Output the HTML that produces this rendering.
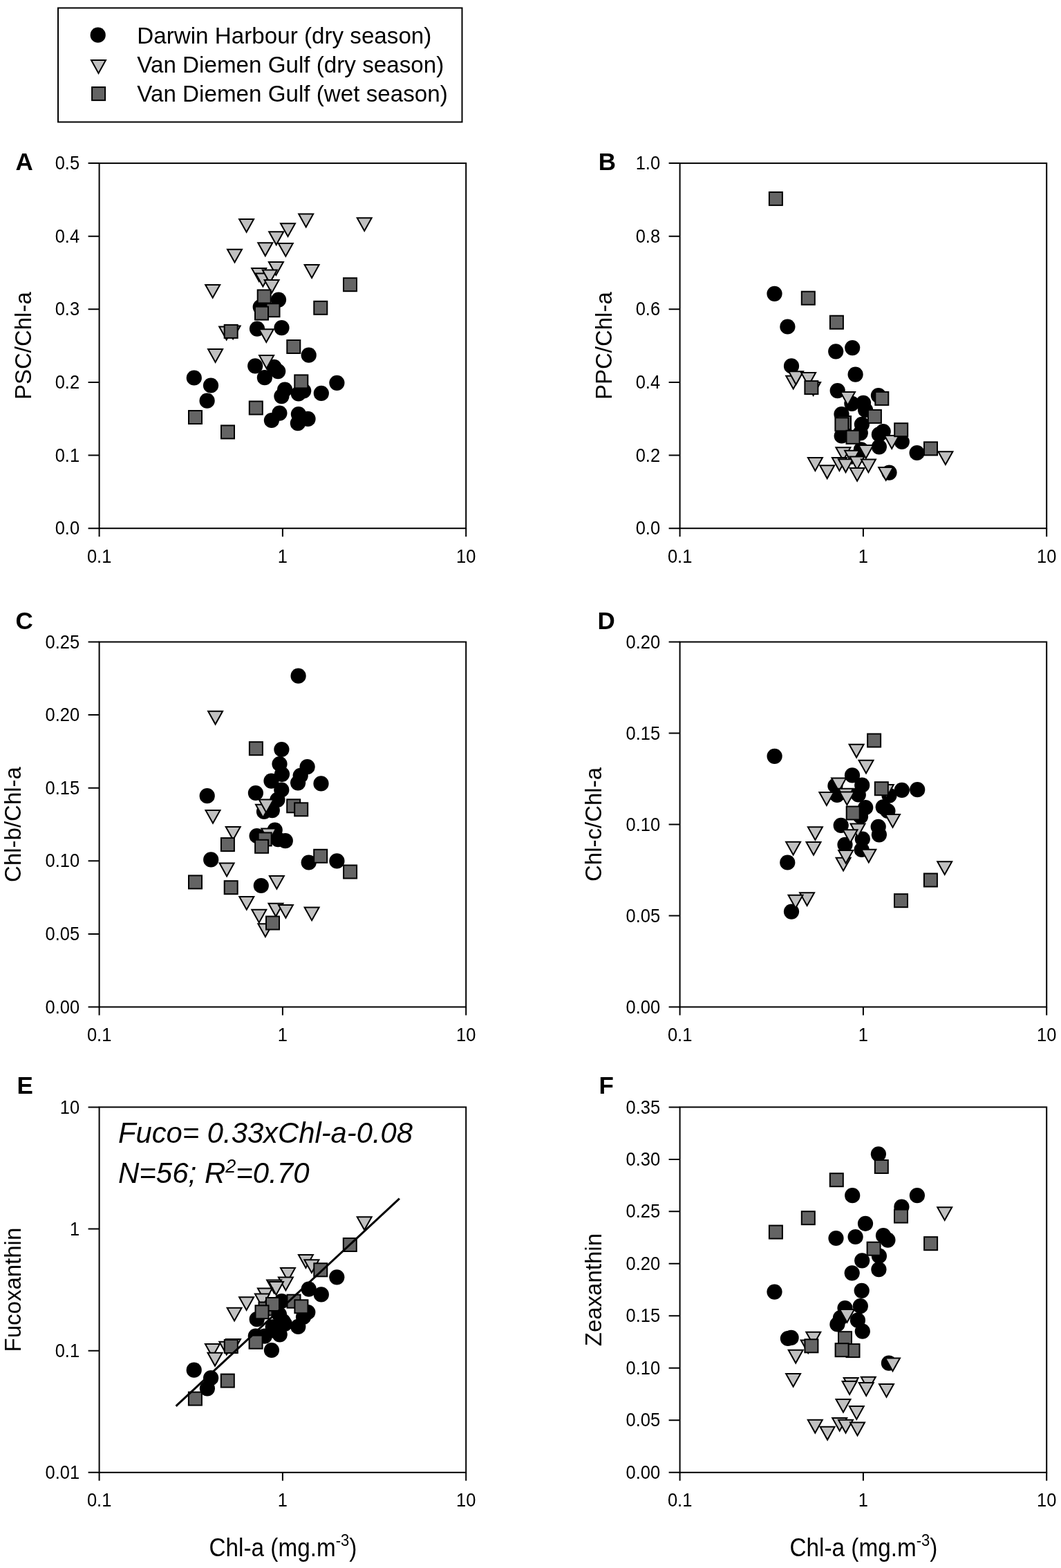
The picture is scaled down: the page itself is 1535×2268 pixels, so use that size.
<!DOCTYPE html><html><head><meta charset="utf-8"><title>Figure</title><style>html,body{margin:0;padding:0;background:#fff}svg{display:block}</style></head><body><svg width="1535" height="2268" viewBox="0 0 1535 2268" font-family='"Liberation Sans", Arial, sans-serif'>
<rect width="1535" height="2268" fill="#fff"/>
<rect x="84" y="11.5" width="584.5" height="165" fill="none" stroke="#000" stroke-width="2"/>
<g fill="#000"><circle cx="141.7" cy="50.7" r="11.1"/></g><g fill="#c0c0c0" stroke="#000" stroke-width="2" stroke-linejoin="miter"><path d="M132 87.1H153L142.5 105.9Z"/></g><g fill="#646464" stroke="#000" stroke-width="2"><rect x="133.1" y="126.1" width="19.0" height="19.0"/></g>
<g font-size="33.2">
<text x="198.3" y="63.3">Darwin Harbour (dry season)</text>
<text x="198.3" y="104.9">Van Diemen Gulf (dry season)</text>
<text x="198.3" y="146.8">Van Diemen Gulf (wet season)</text>
</g>
<g font-size="25.5">
<rect x="143.6" y="236.1" width="530.6" height="528.1" fill="none" stroke="#000" stroke-width="2"/><text transform="translate(115.1 773.3) scale(1 1.07)" text-anchor="end">0.0</text><text transform="translate(115.1 667.68) scale(1 1.07)" text-anchor="end">0.1</text><text transform="translate(115.1 562.06) scale(1 1.07)" text-anchor="end">0.2</text><text transform="translate(115.1 456.44) scale(1 1.07)" text-anchor="end">0.3</text><text transform="translate(115.1 350.82) scale(1 1.07)" text-anchor="end">0.4</text><text transform="translate(115.1 245.2) scale(1 1.07)" text-anchor="end">0.5</text><text transform="translate(143.6 813.8) scale(1 1.07)" text-anchor="middle">0.1</text><text transform="translate(408.9 813.8) scale(1 1.07)" text-anchor="middle">1</text><text transform="translate(674.2 813.8) scale(1 1.07)" text-anchor="middle">10</text><path d="M127.6 764.2H143.6M127.6 658.58H143.6M127.6 552.96H143.6M127.6 447.34H143.6M127.6 341.72H143.6M127.6 236.1H143.6M143.6 764.2V776.2M408.9 764.2V776.2M674.2 764.2V776.2" stroke="#000" stroke-width="2" fill="none"/>
<rect x="983.6" y="236.1" width="530.6" height="528.1" fill="none" stroke="#000" stroke-width="2"/><text transform="translate(955.1 773.3) scale(1 1.07)" text-anchor="end">0.0</text><text transform="translate(955.1 667.68) scale(1 1.07)" text-anchor="end">0.2</text><text transform="translate(955.1 562.06) scale(1 1.07)" text-anchor="end">0.4</text><text transform="translate(955.1 456.44) scale(1 1.07)" text-anchor="end">0.6</text><text transform="translate(955.1 350.82) scale(1 1.07)" text-anchor="end">0.8</text><text transform="translate(955.1 245.2) scale(1 1.07)" text-anchor="end">1.0</text><text transform="translate(983.6 813.8) scale(1 1.07)" text-anchor="middle">0.1</text><text transform="translate(1248.9 813.8) scale(1 1.07)" text-anchor="middle">1</text><text transform="translate(1514.2 813.8) scale(1 1.07)" text-anchor="middle">10</text><path d="M967.6 764.2H983.6M967.6 658.58H983.6M967.6 552.96H983.6M967.6 447.34H983.6M967.6 341.72H983.6M967.6 236.1H983.6M983.6 764.2V776.2M1248.9 764.2V776.2M1514.2 764.2V776.2" stroke="#000" stroke-width="2" fill="none"/>
<rect x="143.6" y="928.5" width="530.6" height="528" fill="none" stroke="#000" stroke-width="2"/><text transform="translate(115.1 1465.6) scale(1 1.07)" text-anchor="end">0.00</text><text transform="translate(115.1 1360) scale(1 1.07)" text-anchor="end">0.05</text><text transform="translate(115.1 1254.4) scale(1 1.07)" text-anchor="end">0.10</text><text transform="translate(115.1 1148.8) scale(1 1.07)" text-anchor="end">0.15</text><text transform="translate(115.1 1043.2) scale(1 1.07)" text-anchor="end">0.20</text><text transform="translate(115.1 937.6) scale(1 1.07)" text-anchor="end">0.25</text><text transform="translate(143.6 1506.1) scale(1 1.07)" text-anchor="middle">0.1</text><text transform="translate(408.9 1506.1) scale(1 1.07)" text-anchor="middle">1</text><text transform="translate(674.2 1506.1) scale(1 1.07)" text-anchor="middle">10</text><path d="M127.6 1456.5H143.6M127.6 1350.9H143.6M127.6 1245.3H143.6M127.6 1139.7H143.6M127.6 1034.1H143.6M127.6 928.5H143.6M143.6 1456.5V1468.5M408.9 1456.5V1468.5M674.2 1456.5V1468.5" stroke="#000" stroke-width="2" fill="none"/>
<rect x="983.6" y="928.5" width="530.6" height="528" fill="none" stroke="#000" stroke-width="2"/><text transform="translate(955.1 1465.6) scale(1 1.07)" text-anchor="end">0.00</text><text transform="translate(955.1 1333.6) scale(1 1.07)" text-anchor="end">0.05</text><text transform="translate(955.1 1201.6) scale(1 1.07)" text-anchor="end">0.10</text><text transform="translate(955.1 1069.6) scale(1 1.07)" text-anchor="end">0.15</text><text transform="translate(955.1 937.6) scale(1 1.07)" text-anchor="end">0.20</text><text transform="translate(983.6 1506.1) scale(1 1.07)" text-anchor="middle">0.1</text><text transform="translate(1248.9 1506.1) scale(1 1.07)" text-anchor="middle">1</text><text transform="translate(1514.2 1506.1) scale(1 1.07)" text-anchor="middle">10</text><path d="M967.6 1456.5H983.6M967.6 1324.5H983.6M967.6 1192.5H983.6M967.6 1060.5H983.6M967.6 928.5H983.6M983.6 1456.5V1468.5M1248.9 1456.5V1468.5M1514.2 1456.5V1468.5" stroke="#000" stroke-width="2" fill="none"/>
<rect x="143.6" y="1601.4" width="530.6" height="528.4" fill="none" stroke="#000" stroke-width="2"/><text transform="translate(115.1 2138.9) scale(1 1.07)" text-anchor="end">0.01</text><text transform="translate(115.1 1962.77) scale(1 1.07)" text-anchor="end">0.1</text><text transform="translate(115.1 1786.63) scale(1 1.07)" text-anchor="end">1</text><text transform="translate(115.1 1610.5) scale(1 1.07)" text-anchor="end">10</text><text transform="translate(143.6 2179.4) scale(1 1.07)" text-anchor="middle">0.1</text><text transform="translate(408.9 2179.4) scale(1 1.07)" text-anchor="middle">1</text><text transform="translate(674.2 2179.4) scale(1 1.07)" text-anchor="middle">10</text><path d="M127.6 2129.8H143.6M127.6 1953.67H143.6M127.6 1777.53H143.6M127.6 1601.4H143.6M143.6 2129.8V2141.8M408.9 2129.8V2141.8M674.2 2129.8V2141.8" stroke="#000" stroke-width="2" fill="none"/>
<rect x="983.6" y="1601.4" width="530.6" height="528.4" fill="none" stroke="#000" stroke-width="2"/><text transform="translate(955.1 2138.9) scale(1 1.07)" text-anchor="end">0.00</text><text transform="translate(955.1 2063.41) scale(1 1.07)" text-anchor="end">0.05</text><text transform="translate(955.1 1987.93) scale(1 1.07)" text-anchor="end">0.10</text><text transform="translate(955.1 1912.44) scale(1 1.07)" text-anchor="end">0.15</text><text transform="translate(955.1 1836.96) scale(1 1.07)" text-anchor="end">0.20</text><text transform="translate(955.1 1761.47) scale(1 1.07)" text-anchor="end">0.25</text><text transform="translate(955.1 1685.99) scale(1 1.07)" text-anchor="end">0.30</text><text transform="translate(955.1 1610.5) scale(1 1.07)" text-anchor="end">0.35</text><text transform="translate(983.6 2179.4) scale(1 1.07)" text-anchor="middle">0.1</text><text transform="translate(1248.9 2179.4) scale(1 1.07)" text-anchor="middle">1</text><text transform="translate(1514.2 2179.4) scale(1 1.07)" text-anchor="middle">10</text><path d="M967.6 2129.8H983.6M967.6 2054.31H983.6M967.6 1978.83H983.6M967.6 1903.34H983.6M967.6 1827.86H983.6M967.6 1752.37H983.6M967.6 1676.89H983.6M967.6 1601.4H983.6M983.6 2129.8V2141.8M1248.9 2129.8V2141.8M1514.2 2129.8V2141.8" stroke="#000" stroke-width="2" fill="none"/>
</g>
<g font-size="35" font-weight="bold">
<text x="22.5" y="245.5">A</text>
<text x="865.7" y="245.5">B</text>
<text x="22.5" y="909.5">C</text>
<text x="864.5" y="909.5">D</text>
<text x="24.5" y="1581.5">E</text>
<text x="866.5" y="1581.5">F</text>
</g>
<g font-size="33" text-anchor="middle">
<text transform="translate(44.5 500.15) rotate(-90) scale(1 1.02)">PSC/Chl-a</text>
<text transform="translate(884.5 500.15) rotate(-90) scale(1 1.02)">PPC/Chl-a</text>
<text transform="translate(29.7 1192.5) rotate(-90) scale(1 1.02)">Chl-b/Chl-a</text>
<text transform="translate(869.7 1192.5) rotate(-90) scale(1 1.02)">Chl-c/Chl-a</text>
<text transform="translate(29.7 1865.6) rotate(-90) scale(1 1.02)">Fucoxanthin</text>
<text transform="translate(869.7 1865.6) rotate(-90) scale(1 1.02)">Zeaxanthin</text>
</g>
<g font-size="33.3">
<text transform="translate(302.5 2250.5) scale(1 1.10)">Chl-a (mg.m<tspan font-size="22" dy="-13">-3</tspan><tspan dy="13">)</tspan></text>
<text transform="translate(1142.5 2250.5) scale(1 1.10)">Chl-a (mg.m<tspan font-size="22" dy="-13">-3</tspan><tspan dy="13">)</tspan></text>
</g>
<g font-size="42" font-style="italic">
<text x="171" y="1652.5" textLength="426" lengthAdjust="spacingAndGlyphs">Fuco= 0.33xChl-a-0.08</text>
<text x="171" y="1710.5">N=56; R<tspan font-size="27" dy="-15">2</tspan><tspan dy="15">=0.70</tspan></text>
</g>
<g fill="#000"><circle cx="403" cy="433.6" r="11.1"/><circle cx="376.7" cy="444" r="11.1"/><circle cx="372" cy="475.6" r="11.1"/><circle cx="407.5" cy="474.1" r="11.1"/><circle cx="446.7" cy="513.7" r="11.1"/><circle cx="369.2" cy="529.3" r="11.1"/><circle cx="396.5" cy="530.9" r="11.1"/><circle cx="402.2" cy="537.1" r="11.1"/><circle cx="382.9" cy="546.2" r="11.1"/><circle cx="280.8" cy="546.5" r="11.1"/><circle cx="305" cy="557.5" r="11.1"/><circle cx="299.6" cy="579.7" r="11.1"/><circle cx="412.1" cy="563.5" r="11.1"/><circle cx="407.4" cy="573.1" r="11.1"/><circle cx="431.9" cy="569.4" r="11.1"/><circle cx="439.2" cy="565.3" r="11.1"/><circle cx="464.8" cy="568.9" r="11.1"/><circle cx="487.4" cy="553.8" r="11.1"/><circle cx="404.4" cy="597.6" r="11.1"/><circle cx="392.9" cy="608" r="11.1"/><circle cx="431.9" cy="599.1" r="11.1"/><circle cx="445.5" cy="605.9" r="11.1"/><circle cx="430.9" cy="612.2" r="11.1"/></g><g fill="#c0c0c0" stroke="#000" stroke-width="2" stroke-linejoin="miter"><path d="M346.1 316.9H367.1L356.6 335.7Z"/><path d="M406 323.2H427L416.5 342Z"/><path d="M389.2 335.3H410.2L399.7 354.1Z"/><path d="M373.3 351.3H394.3L383.8 370.1Z"/><path d="M402.8 352H423.8L413.3 370.8Z"/><path d="M329 360.7H350L339.5 379.5Z"/><path d="M388.9 379.1H409.9L399.4 397.9Z"/><path d="M364.2 388.1H385.2L374.7 406.9Z"/><path d="M369.9 395.6H390.9L380.4 414.4Z"/><path d="M379.8 390.4H400.8L390.3 409.2Z"/><path d="M382.6 405H403.6L393.1 423.8Z"/><path d="M297.2 412H318.2L307.7 430.8Z"/><path d="M432.2 309.6H453.2L442.7 328.4Z"/><path d="M516.7 315.2H537.7L527.2 334Z"/><path d="M440.6 383.1H461.6L451.1 401.9Z"/><path d="M317.2 472.6H338.2L327.7 491.4Z"/><path d="M326.6 471.5H347.6L337.1 490.3Z"/><path d="M374.8 476.2H395.8L385.3 495Z"/><path d="M301.1 505.1H322.1L311.6 523.9Z"/><path d="M375.1 514.1H396.1L385.6 532.9Z"/></g><g fill="#646464" stroke="#000" stroke-width="2"><rect x="372.7" y="419.4" width="19.0" height="19.0"/><rect x="385.5" y="439.2" width="19.0" height="19.0"/><rect x="369" y="443.6" width="19.0" height="19.0"/><rect x="497" y="402.2" width="19.0" height="19.0"/><rect x="454.3" y="435.8" width="19.0" height="19.0"/><rect x="324.7" y="469.9" width="19.0" height="19.0"/><rect x="415.3" y="492" width="19.0" height="19.0"/><rect x="426.3" y="542.4" width="19.0" height="19.0"/><rect x="360.8" y="580.5" width="19.0" height="19.0"/><rect x="273" y="594" width="19.0" height="19.0"/><rect x="320" y="615.4" width="19.0" height="19.0"/></g>
<g fill="#000"><circle cx="1120.5" cy="424.8" r="11.1"/><circle cx="1139.4" cy="472.5" r="11.1"/><circle cx="1209.2" cy="508.3" r="11.1"/><circle cx="1233.2" cy="503.1" r="11.1"/><circle cx="1145" cy="529.4" r="11.1"/><circle cx="1237.6" cy="541.6" r="11.1"/><circle cx="1211.7" cy="565.1" r="11.1"/><circle cx="1232.4" cy="583.8" r="11.1"/><circle cx="1249" cy="582.8" r="11.1"/><circle cx="1252.1" cy="593" r="11.1"/><circle cx="1270.9" cy="572.1" r="11.1"/><circle cx="1217.5" cy="599.1" r="11.1"/><circle cx="1246.9" cy="613.8" r="11.1"/><circle cx="1244.8" cy="626.3" r="11.1"/><circle cx="1217.7" cy="630.5" r="11.1"/><circle cx="1277.7" cy="624.2" r="11.1"/><circle cx="1271.9" cy="628.4" r="11.1"/><circle cx="1271.9" cy="646.3" r="11.1"/><circle cx="1304.8" cy="639" r="11.1"/><circle cx="1326.6" cy="655" r="11.1"/><circle cx="1245.9" cy="650.3" r="11.1"/><circle cx="1286.5" cy="683.6" r="11.1"/></g><g fill="#c0c0c0" stroke="#000" stroke-width="2" stroke-linejoin="miter"><path d="M1137.2 543.7H1158.2L1147.7 562.5Z"/><path d="M1141.1 537.3H1162.1L1151.6 556.1Z"/><path d="M1159.1 539.1H1180.1L1169.6 557.9Z"/><path d="M1166.1 553.1H1187.1L1176.6 571.9Z"/><path d="M1216 567.1H1237L1226.5 585.9Z"/><path d="M1209.4 647.2H1230.4L1219.9 666Z"/><path d="M1242.3 644.1H1263.3L1252.8 662.9Z"/><path d="M1222.1 651.8H1243.1L1232.6 670.6Z"/><path d="M1203.9 662.1H1224.9L1214.4 680.9Z"/><path d="M1213 664.3H1234L1223.5 683.1Z"/><path d="M1229.4 660.4H1250.4L1239.9 679.2Z"/><path d="M1245.9 664.4H1266.9L1256.4 683.2Z"/><path d="M1229.6 676.9H1250.6L1240.1 695.7Z"/><path d="M1271.2 676H1292.2L1281.7 694.8Z"/><path d="M1168.9 662.1H1189.9L1179.4 680.9Z"/><path d="M1186.2 673.3H1207.2L1196.7 692.1Z"/><path d="M1279.7 630.1H1300.7L1290.2 648.9Z"/><path d="M1357.4 653.2H1378.4L1367.9 672Z"/></g><g fill="#646464" stroke="#000" stroke-width="2"><rect x="1112.9" y="277.9" width="19.0" height="19.0"/><rect x="1159.8" y="421.7" width="19.0" height="19.0"/><rect x="1200.9" y="456.7" width="19.0" height="19.0"/><rect x="1164.4" y="551.1" width="19.0" height="19.0"/><rect x="1266.3" y="566.9" width="19.0" height="19.0"/><rect x="1255.9" y="592.9" width="19.0" height="19.0"/><rect x="1212" y="602" width="19.0" height="19.0"/><rect x="1208.4" y="604.3" width="19.0" height="19.0"/><rect x="1224.5" y="622.8" width="19.0" height="19.0"/><rect x="1294.2" y="612.2" width="19.0" height="19.0"/><rect x="1337" y="639.4" width="19.0" height="19.0"/></g>
<g fill="#000"><circle cx="431.6" cy="977.7" r="11.1"/><circle cx="407.4" cy="1084" r="11.1"/><circle cx="404.5" cy="1105" r="11.1"/><circle cx="444.6" cy="1109.2" r="11.1"/><circle cx="408" cy="1119.8" r="11.1"/><circle cx="392.5" cy="1129.6" r="11.1"/><circle cx="434.7" cy="1121.9" r="11.1"/><circle cx="431.1" cy="1132.3" r="11.1"/><circle cx="464.5" cy="1133.4" r="11.1"/><circle cx="407.3" cy="1142.5" r="11.1"/><circle cx="401.4" cy="1156.8" r="11.1"/><circle cx="369.9" cy="1147" r="11.1"/><circle cx="393.8" cy="1172.2" r="11.1"/><circle cx="382" cy="1174" r="11.1"/><circle cx="299.7" cy="1151.2" r="11.1"/><circle cx="305.2" cy="1243.4" r="11.1"/><circle cx="371.6" cy="1209" r="11.1"/><circle cx="397.7" cy="1200.6" r="11.1"/><circle cx="402.2" cy="1214.1" r="11.1"/><circle cx="412.8" cy="1216.2" r="11.1"/><circle cx="446.7" cy="1247.5" r="11.1"/><circle cx="487.4" cy="1245.4" r="11.1"/><circle cx="377.8" cy="1281" r="11.1"/></g><g fill="#c0c0c0" stroke="#000" stroke-width="2" stroke-linejoin="miter"><path d="M301.1 1028.8H322.1L311.6 1047.6Z"/><path d="M297.5 1172H318.5L308 1190.8Z"/><path d="M326.7 1196H347.7L337.2 1214.8Z"/><path d="M317.6 1248.6H338.6L328.1 1267.4Z"/><path d="M370 1163.7H391L380.5 1182.5Z"/><path d="M374.7 1156.4H395.7L385.2 1175.2Z"/><path d="M378.3 1198.6H399.3L388.8 1217.4Z"/><path d="M389.9 1267H410.9L400.4 1285.8Z"/><path d="M346.3 1296.9H367.3L356.8 1315.7Z"/><path d="M364.3 1315.7H385.3L374.8 1334.5Z"/><path d="M373.4 1336.2H394.4L383.9 1355Z"/><path d="M388.5 1306.8H409.5L399 1325.6Z"/><path d="M402.9 1308.9H423.9L413.4 1327.7Z"/><path d="M440.6 1312.5H461.6L451.1 1331.3Z"/></g><g fill="#646464" stroke="#000" stroke-width="2"><rect x="360.9" y="1073.2" width="19.0" height="19.0"/><rect x="319.9" y="1212.1" width="19.0" height="19.0"/><rect x="273" y="1266.4" width="19.0" height="19.0"/><rect x="324.7" y="1274.2" width="19.0" height="19.0"/><rect x="415.2" y="1156.3" width="19.0" height="19.0"/><rect x="426.2" y="1161.3" width="19.0" height="19.0"/><rect x="373.7" y="1204.4" width="19.0" height="19.0"/><rect x="369.1" y="1214.8" width="19.0" height="19.0"/><rect x="454.2" y="1228.8" width="19.0" height="19.0"/><rect x="497.1" y="1251.5" width="19.0" height="19.0"/><rect x="385" y="1325.5" width="19.0" height="19.0"/></g>
<g fill="#000"><circle cx="1120.6" cy="1093.8" r="11.1"/><circle cx="1233" cy="1121.4" r="11.1"/><circle cx="1208.4" cy="1136.5" r="11.1"/><circle cx="1247.2" cy="1135.7" r="11.1"/><circle cx="1211" cy="1150" r="11.1"/><circle cx="1241.8" cy="1149.5" r="11.1"/><circle cx="1252.2" cy="1168" r="11.1"/><circle cx="1245" cy="1181" r="11.1"/><circle cx="1216.7" cy="1193.9" r="11.1"/><circle cx="1247.8" cy="1213.5" r="11.1"/><circle cx="1222.5" cy="1221.8" r="11.1"/><circle cx="1246.6" cy="1229" r="11.1"/><circle cx="1270.7" cy="1195.8" r="11.1"/><circle cx="1271.9" cy="1207.3" r="11.1"/><circle cx="1277.7" cy="1167.3" r="11.1"/><circle cx="1284.4" cy="1173" r="11.1"/><circle cx="1286.5" cy="1150.6" r="11.1"/><circle cx="1304.8" cy="1142.8" r="11.1"/><circle cx="1327.2" cy="1142.2" r="11.1"/><circle cx="1139.3" cy="1247.5" r="11.1"/><circle cx="1145" cy="1318.6" r="11.1"/></g><g fill="#c0c0c0" stroke="#000" stroke-width="2" stroke-linejoin="miter"><path d="M1228.6 1076.8H1249.6L1239.1 1095.6Z"/><path d="M1242.5 1099.7H1263.5L1253 1118.5Z"/><path d="M1203.1 1125.6H1224.1L1213.6 1144.4Z"/><path d="M1213.2 1140.7H1234.2L1223.7 1159.5Z"/><path d="M1185.4 1146.1H1206.4L1195.9 1164.9Z"/><path d="M1214.9 1145.4H1235.9L1225.4 1164.2Z"/><path d="M1271.8 1135.1H1292.8L1282.3 1153.9Z"/><path d="M1281 1177.9H1302L1291.5 1196.7Z"/><path d="M1230.5 1191.6H1251.5L1241 1210.4Z"/><path d="M1219.5 1200.3H1240.5L1230 1219.1Z"/><path d="M1168.9 1196.2H1189.9L1179.4 1215Z"/><path d="M1137.1 1217.7H1158.1L1147.6 1236.5Z"/><path d="M1166.5 1218H1187.5L1177 1236.8Z"/><path d="M1157.1 1291.2H1178.1L1167.6 1310Z"/><path d="M1140.5 1294.7H1161.5L1151 1313.5Z"/><path d="M1209.6 1240.7H1230.6L1220.1 1259.5Z"/><path d="M1213.2 1230H1234.2L1223.7 1248.8Z"/><path d="M1246.3 1228.7H1267.3L1256.8 1247.5Z"/><path d="M1356.2 1246.2H1377.2L1366.7 1265Z"/></g><g fill="#646464" stroke="#000" stroke-width="2"><rect x="1255.1" y="1061.5" width="19.0" height="19.0"/><rect x="1265.8" y="1131.2" width="19.0" height="19.0"/><rect x="1224.7" y="1166.5" width="19.0" height="19.0"/><rect x="1336.9" y="1263.5" width="19.0" height="19.0"/><rect x="1294" y="1293.2" width="19.0" height="19.0"/></g>
<g fill="#000"><circle cx="280.7" cy="1981.7" r="11.1"/><circle cx="305.1" cy="1993.2" r="11.1"/><circle cx="299.9" cy="2008.3" r="11.1"/><circle cx="392.9" cy="1953" r="11.1"/><circle cx="371.7" cy="1908.2" r="11.1"/><circle cx="369.8" cy="1932.7" r="11.1"/><circle cx="382.8" cy="1932.7" r="11.1"/><circle cx="404.7" cy="1930.3" r="11.1"/><circle cx="409.5" cy="1911" r="11.1"/><circle cx="403.9" cy="1901" r="11.1"/><circle cx="394.7" cy="1919.3" r="11.1"/><circle cx="407.5" cy="1882" r="11.1"/><circle cx="431.3" cy="1918.9" r="11.1"/><circle cx="445.3" cy="1898" r="11.1"/><circle cx="446.7" cy="1864.6" r="11.1"/><circle cx="464.8" cy="1872.4" r="11.1"/><circle cx="487.3" cy="1847.3" r="11.1"/><circle cx="412" cy="1915" r="11.1"/><circle cx="439" cy="1905" r="11.1"/><circle cx="398" cy="1925" r="11.1"/></g><g fill="#c0c0c0" stroke="#000" stroke-width="2" stroke-linejoin="miter"><path d="M516.7 1760.3H537.7L527.2 1779.1Z"/><path d="M431.9 1815.1H452.9L442.4 1833.9Z"/><path d="M440.4 1822.2H461.4L450.9 1841Z"/><path d="M406 1833.9H427L416.5 1852.7Z"/><path d="M402.9 1847.6H423.9L413.4 1866.4Z"/><path d="M386.1 1851.6H407.1L396.6 1870.4Z"/><path d="M389 1854.1H410L399.5 1872.9Z"/><path d="M372.9 1863.4H393.9L383.4 1882.2Z"/><path d="M368.9 1871.6H389.9L379.4 1890.4Z"/><path d="M346.1 1876.2H367.1L356.6 1895Z"/><path d="M328.6 1891.7H349.6L339.1 1910.5Z"/><path d="M296.9 1944H317.9L307.4 1962.8Z"/><path d="M300.5 1956.8H321.5L311 1975.6Z"/><path d="M317.3 1940.7H338.3L327.8 1959.5Z"/><path d="M327 1937.1H348L337.5 1955.9Z"/></g><g fill="#646464" stroke="#000" stroke-width="2"><rect x="496.8" y="1791" width="19.0" height="19.0"/><rect x="454.3" y="1827.3" width="19.0" height="19.0"/><rect x="415.5" y="1872.7" width="19.0" height="19.0"/><rect x="426.4" y="1880.3" width="19.0" height="19.0"/><rect x="374.5" y="1883.5" width="19.0" height="19.0"/><rect x="385" y="1877" width="19.0" height="19.0"/><rect x="369.5" y="1888.3" width="19.0" height="19.0"/><rect x="360.6" y="1931.7" width="19.0" height="19.0"/><rect x="324.8" y="1938" width="19.0" height="19.0"/><rect x="319.8" y="1987.6" width="19.0" height="19.0"/><rect x="272.9" y="2013.6" width="19.0" height="19.0"/></g>
<path d="M254.6 2033.8L577.9 1733.7" stroke="#000" stroke-width="3" fill="none"/>
<g fill="#000"><circle cx="1270.9" cy="1669.3" r="11.1"/><circle cx="1233.2" cy="1729.2" r="11.1"/><circle cx="1326.9" cy="1729.2" r="11.1"/><circle cx="1304.4" cy="1745.6" r="11.1"/><circle cx="1252" cy="1769.8" r="11.1"/><circle cx="1209.5" cy="1791" r="11.1"/><circle cx="1237.6" cy="1789" r="11.1"/><circle cx="1278" cy="1787.2" r="11.1"/><circle cx="1284.4" cy="1793.6" r="11.1"/><circle cx="1271.9" cy="1816.7" r="11.1"/><circle cx="1247.2" cy="1823.3" r="11.1"/><circle cx="1271.4" cy="1836.2" r="11.1"/><circle cx="1232.7" cy="1841.3" r="11.1"/><circle cx="1246.7" cy="1866.8" r="11.1"/><circle cx="1120.5" cy="1868.6" r="11.1"/><circle cx="1222.5" cy="1892.1" r="11.1"/><circle cx="1244.8" cy="1889.2" r="11.1"/><circle cx="1216" cy="1906.2" r="11.1"/><circle cx="1211.4" cy="1915.5" r="11.1"/><circle cx="1240.9" cy="1909.7" r="11.1"/><circle cx="1247.8" cy="1925.6" r="11.1"/><circle cx="1139.9" cy="1936" r="11.1"/><circle cx="1144.6" cy="1934.9" r="11.1"/><circle cx="1285.9" cy="1971.7" r="11.1"/></g><g fill="#c0c0c0" stroke="#000" stroke-width="2" stroke-linejoin="miter"><path d="M1356.2 1746.2H1377.2L1366.7 1765Z"/><path d="M1215 1893.9H1236L1225.5 1912.7Z"/><path d="M1166.3 1926.7H1187.3L1176.8 1945.5Z"/><path d="M1158.7 1938.5H1179.7L1169.2 1957.3Z"/><path d="M1140.7 1952.8H1161.7L1151.2 1971.6Z"/><path d="M1137.1 1987H1158.1L1147.6 2005.8Z"/><path d="M1281 1964.5H1302L1291.5 1983.3Z"/><path d="M1220.7 1992.9H1241.7L1231.2 2011.7Z"/><path d="M1245.8 1991.7H1266.8L1256.3 2010.5Z"/><path d="M1218.6 1998.1H1239.6L1229.1 2016.9Z"/><path d="M1242.7 2000.1H1263.7L1253.2 2018.9Z"/><path d="M1272 2001.9H1293L1282.5 2020.7Z"/><path d="M1209.5 2023.9H1230.5L1220 2042.7Z"/><path d="M1228.8 2034.1H1249.8L1239.3 2052.9Z"/><path d="M1168.8 2053.8H1189.8L1179.3 2072.6Z"/><path d="M1186.6 2063.8H1207.6L1197.1 2082.6Z"/><path d="M1204.2 2050.9H1225.2L1214.7 2069.7Z"/><path d="M1213 2053.8H1234L1223.5 2072.6Z"/><path d="M1230 2057.6H1251L1240.5 2076.4Z"/></g><g fill="#646464" stroke="#000" stroke-width="2"><rect x="1265.8" y="1678" width="19.0" height="19.0"/><rect x="1200.8" y="1697.2" width="19.0" height="19.0"/><rect x="1159.8" y="1752.2" width="19.0" height="19.0"/><rect x="1112.9" y="1772.6" width="19.0" height="19.0"/><rect x="1294" y="1749.6" width="19.0" height="19.0"/><rect x="1337.1" y="1789.2" width="19.0" height="19.0"/><rect x="1254.6" y="1796.7" width="19.0" height="19.0"/><rect x="1164.4" y="1937.3" width="19.0" height="19.0"/><rect x="1213" y="1926.2" width="19.0" height="19.0"/><rect x="1224.5" y="1944.1" width="19.0" height="19.0"/><rect x="1208.6" y="1943.2" width="19.0" height="19.0"/></g>
</svg></body></html>
